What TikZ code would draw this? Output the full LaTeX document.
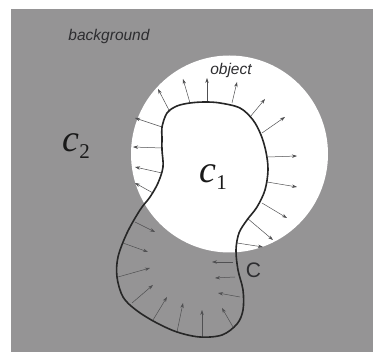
\documentclass[tikz,border=0pt]{standalone}
\usepackage{fontspec}
\newfontfamily\lsans{Liberation Sans}
\newfontfamily\lserif{Liberation Serif}
\usetikzlibrary{arrows.meta}
\definecolor{bggray}{RGB}{149,148,149}
\definecolor{txtgray}{RGB}{45,45,48}
\definecolor{arrgray}{RGB}{80,80,82}
\newcommand{\clabel}[1]{{\fontsize{38}{42}\selectfont\itshape c}\kern0.5pt{\fontsize{21}{24}\selectfont\raisebox{-7pt}{#1}}}
\tikzset{
  nrm/.style={draw=arrgray, line width=0.5pt, -{Stealth[length=5pt,width=3.4pt]}},
  lbl/.style={text=txtgray, font=\lsans\itshape\fontsize{15.5}{18}\selectfont, inner sep=0pt},
  mathlbl/.style={text=black!90, inner sep=0pt, font=\lserif},
  contour/.style={draw=black!85, line width=1.6pt}
}
\begin{document}
\begin{tikzpicture}[x=1pt,y=-1pt]
\useasboundingbox (0,0) rectangle (373,352);
\fill[white] (0,0) rectangle (373,352);
\fill[bggray] (11,9) rectangle (373,352);
\fill[white] (229.5,154) circle (98.5);
% outward normals
\foreach \xa/\ya/\xb/\yb in {162/127/135/118, 170/112/158/89, 190/103/183/79, 207/103/207/78,
  232/103/237/82, 250/117/265/99, 262/133/285/117, 268/157/297/156,
  267/182/297/187, 262/203/287/218, 247/218/273/240, 237/243/263/247,
  162/148/133/147, 162/173/135/167, 153/193/135/183}
  {\draw[nrm] (\xa,\ya) -- (\xb,\yb);}
% inward normals
\foreach \xa/\ya/\xb/\yb in {135/222/155/232, 123/243/148/252, 118/277/150/268,
  132/303/153/285, 153/320/167/297, 177/332/183/303, 202/337/202/310,
  233/327/222/308, 240/297/218/293, 235/277/215/278, 233/262/212/262}
  {\draw[nrm] (\xa,\ya) -- (\xb,\yb);}
% contour C
\draw[contour] plot[smooth cycle, tension=0.55] coordinates {
 (162,127) (167,113) (177,106) (190,103) (205,102) (220,103) (240,108) (253,120)
 (261,135) (266,152) (268,170) (265,190) (257,207) (247,220) (239,233) (236,250)
 (238,270) (243,290) (243,310) (237,324) (222,335) (200,337) (177,332) (155,322)
 (136,310) (123,297) (117,277) (118,257) (127,233) (140,210) (150,197) (158,183)
 (163,167) (162,150) (162,137)};
% labels
\node[lbl] (bg) at (109,36) {background};
\node[lbl] (obj) at (231,70) {object};
\node[mathlbl] (c1) at (213,177) {\clabel{1}};
\node[mathlbl] (c2) at (76,146) {\clabel{2}};
\node[text=txtgray, inner sep=0pt, font=\lsans\fontsize{21}{24}\selectfont] (C) at (253.5,270) {C};
\end{tikzpicture}
\end{document}
